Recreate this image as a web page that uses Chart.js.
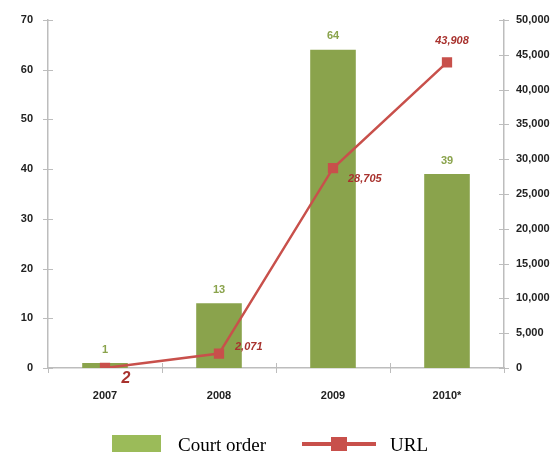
<!DOCTYPE html>
<html>
<head>
<meta charset="utf-8">
<script src="https://cdn.jsdelivr.net/npm/chart.js@4.4.0/dist/chart.umd.min.js"></script>
<style>
  body { margin: 0; background: #fff; }
</style>
</head>
<body>
<canvas id="chart" width="558" height="456"></canvas>
<script>
// data
var years = ["2007", "2008", "2009", "2010*"];
var courtOrders = [1, 13, 64, 39];
var urls = [2, 2071, 28705, 43908];
var leftTicks = [0, 10, 20, 30, 40, 50, 60, 70];
var rightTicks = [0, 5000, 10000, 15000, 20000, 25000, 30000, 35000, 40000, 45000, 50000];

var barColor = "#8aa34c";
var legendBarColor = "#9bbb59";
var lineColor = "#c8504b";
var lineLabelColor = "#a8322e";
var axisColor = "#bdbdbd";
var sans = "'Liberation Sans', Arial, sans-serif";

// offsets of the URL value labels from their point
var urlLabelPos = [
  { dx: 21, dy: 11, align: "center", size: 16 },
  { dx: 16, dy: -7, align: "left", size: 11 },
  { dx: 15, dy: 11, align: "left", size: 11 },
  { dx: 5, dy: -21, align: "center", size: 11 }
];

function noPad(s) { s.paddingTop = 0; s.paddingBottom = 0; }

var extras = {
  id: "extras",
  afterDatasetsDraw: function (chart) {
    var ctx = chart.ctx;
    var x = chart.scales.x, yl = chart.scales.y, yr = chart.scales.y2;
    ctx.save();
    ctx.strokeStyle = axisColor;
    ctx.lineWidth = 1;
    // tick marks crossing the axes
    yl.ticks.forEach(function (t, i) {
      var py = Math.round(yl.getPixelForTick(i)) + 0.5;
      ctx.beginPath(); ctx.moveTo(yl.right - 5, py); ctx.lineTo(yl.right + 5, py); ctx.stroke();
    });
    yr.ticks.forEach(function (t, i) {
      var py = Math.round(yr.getPixelForTick(i)) + 0.5;
      ctx.beginPath(); ctx.moveTo(yr.left - 5, py); ctx.lineTo(yr.left + 5, py); ctx.stroke();
    });
    for (var i = 1; i < years.length; i++) {
      var px = Math.round((x.getPixelForValue(i - 1) + x.getPixelForValue(i)) / 2) + 0.5;
      ctx.beginPath(); ctx.moveTo(px, x.top - 5); ctx.lineTo(px, x.top + 5); ctx.stroke();
    }
    ctx.beginPath(); ctx.moveTo(yl.right + 0.5, x.top); ctx.lineTo(yl.right + 0.5, x.top + 5); ctx.stroke();
    ctx.beginPath(); ctx.moveTo(yr.left + 0.5, x.top); ctx.lineTo(yr.left + 0.5, x.top + 5); ctx.stroke();

    // bar value labels
    ctx.font = "bold 11px " + sans;
    ctx.fillStyle = barColor;
    ctx.textAlign = "center";
    ctx.textBaseline = "bottom";
    chart.getDatasetMeta(0).data.forEach(function (b, i) {
      ctx.fillText(courtOrders[i], b.x, b.y - 8);
    });

    // line value labels
    ctx.fillStyle = lineLabelColor;
    ctx.textBaseline = "middle";
    chart.getDatasetMeta(1).data.forEach(function (p, i) {
      var o = urlLabelPos[i];
      ctx.font = "italic bold " + o.size + "px " + sans;
      ctx.textAlign = o.align;
      ctx.fillText(urls[i].toLocaleString("en-US"), p.x + o.dx, p.y + o.dy);
    });
    ctx.restore();
  },
  afterDraw: function (chart) {
    // legend
    var ctx = chart.ctx;
    ctx.save();
    ctx.fillStyle = legendBarColor;
    ctx.fillRect(112, 435, 49, 17);
    ctx.strokeStyle = lineColor;
    ctx.lineWidth = 4;
    ctx.beginPath(); ctx.moveTo(302, 444); ctx.lineTo(376, 444); ctx.stroke();
    ctx.fillStyle = lineColor;
    ctx.fillRect(331, 437, 16, 14);
    ctx.fillStyle = "#000";
    ctx.font = "19px 'Liberation Serif', 'Times New Roman', serif";
    ctx.textAlign = "left";
    ctx.textBaseline = "middle";
    ctx.fillText(chart.data.datasets[0].label, 178, 446);
    ctx.fillText(chart.data.datasets[1].label, 390, 446);
    ctx.restore();
  }
};

new Chart(document.getElementById("chart"), {
  type: "bar",
  data: {
    labels: years,
    datasets: [
      {
        label: "Court order",
        data: courtOrders,
        yAxisID: "y",
        backgroundColor: barColor,
        barPercentage: 0.4,
        categoryPercentage: 1,
        order: 1
      },
      {
        type: "line",
        label: "URL",
        data: urls,
        yAxisID: "y2",
        borderColor: lineColor,
        backgroundColor: lineColor,
        borderWidth: 2.5,
        pointStyle: "rect",
        pointRadius: 5.5,
        pointHoverRadius: 5.5,
        tension: 0,
        order: 0
      }
    ]
  },
  options: {
    responsive: false,
    animation: false,
    layout: { padding: { top: 20, left: 0, right: 0, bottom: 0 } },
    plugins: { legend: { display: false }, tooltip: { enabled: false } },
    scales: {
      x: {
        grid: { display: false, drawTicks: false },
        border: { color: axisColor, width: 1.5 },
        ticks: { color: "#222", font: { family: sans, size: 11, weight: "bold" }, padding: 21 },
        afterFit: function (s) { s.height = 88; }
      },
      y: {
        position: "left",
        min: 0, max: 70,
        afterBuildTicks: function (s) { s.ticks = leftTicks.map(function (v) { return { value: v }; }); },
        grid: { display: false, drawTicks: false },
        border: { color: axisColor, width: 1.5 },
        ticks: { color: "#222", font: { family: sans, size: 11, weight: "bold" }, padding: 15 },
        afterFit: function (s) { s.width = 48; noPad(s); }
      },
      y2: {
        position: "right",
        min: 0, max: 50000,
        afterBuildTicks: function (s) { s.ticks = rightTicks.map(function (v) { return { value: v }; }); },
        grid: { display: false, drawTicks: false },
        border: { color: axisColor, width: 1.5 },
        ticks: {
          color: "#222", font: { family: sans, size: 11, weight: "bold" }, padding: 12,
          callback: function (v) { return Number(v).toLocaleString("en-US"); }
        },
        afterFit: function (s) { s.width = 54; noPad(s); }
      }
    }
  },
  plugins: [extras]
});
</script>
</body>
</html>
